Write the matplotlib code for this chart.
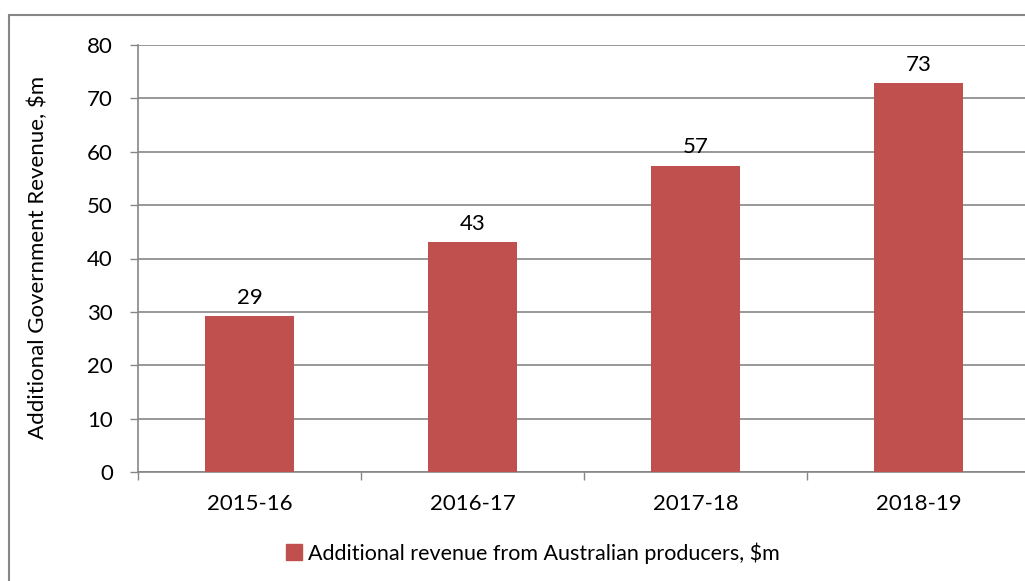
import matplotlib
matplotlib.use("Agg")
import matplotlib.pyplot as plt
from matplotlib.patches import Patch, Rectangle

plt.rcParams['font.family'] = ['Lato', 'DejaVu Sans']

years = ['2015-16', '2016-17', '2017-18', '2018-19']
revenue = [29.2, 43.0, 57.4, 72.8]
series_name = 'Additional revenue from Australian producers, $m'
y_ticks = [0, 10, 20, 30, 40, 50, 60, 70, 80]

W, H = 1025, 581
bar_color = '#C0504D'
grid_color = '#868686'

fig = plt.figure(figsize=(W / 100, H / 100), dpi=100)

# plot area runs off the right edge, like the original crop
ax = fig.add_axes([138 / W, (H - 472) / H, 892 / W, (472 - 45) / H])
x = list(range(len(years)))
bars = ax.bar(x, revenue, width=0.4, color=bar_color, zorder=3)
for b, v in zip(bars, revenue):
    ax.annotate(f'{v:.0f}', (b.get_x() + b.get_width() / 2, v),
                xytext=(0, 6), textcoords='offset points',
                ha='center', va='bottom', fontsize=16)

ax.set_xlim(-0.5, len(years) - 0.5)
ax.set_ylim(0, 80)
ax.set_yticks(y_ticks)
# category boundaries get the tick marks, names sit between them
ax.set_xticks([i + 0.5 for i in range(-1, len(years) - 1)], minor=False)
ax.set_xticklabels([])
ax.set_xticks(x, minor=True)
ax.set_xticklabels(years, minor=True)
ax.tick_params(axis='x', which='major', length=6, width=1, color=grid_color, direction='out')
ax.tick_params(axis='x', which='minor', length=0, pad=16, labelsize=16)
ax.tick_params(axis='y', length=6, width=1, color=grid_color, direction='out', pad=12, labelsize=16)

ax.yaxis.grid(True, color=grid_color, linewidth=1.2, zorder=0)
for side in ['top', 'right']:
    ax.spines[side].set_visible(False)
for side in ['left', 'bottom']:
    ax.spines[side].set_color(grid_color)
    ax.spines[side].set_linewidth(1.2)

fig.text(38 / W, (H - 257) / H, 'Additional Government Revenue, $m',
         rotation=90, ha='center', va='center', fontsize=16)

fig.legend(handles=[Patch(color=bar_color, label=series_name)],
           loc='center', bbox_to_anchor=(533 / W, (H - 553) / H),
           frameon=False, fontsize=15.5, handlelength=0.75, handleheight=0.75,
           handletextpad=0.3)

# outer chart border (right/bottom fall outside the crop)
fig.patches.append(Rectangle((9 / W, -0.1), 1.1, (H - 15) / H + 0.1,
                             transform=fig.transFigure, fill=False,
                             edgecolor=grid_color, linewidth=1.5))

fig.savefig('out.png', dpi=100)
